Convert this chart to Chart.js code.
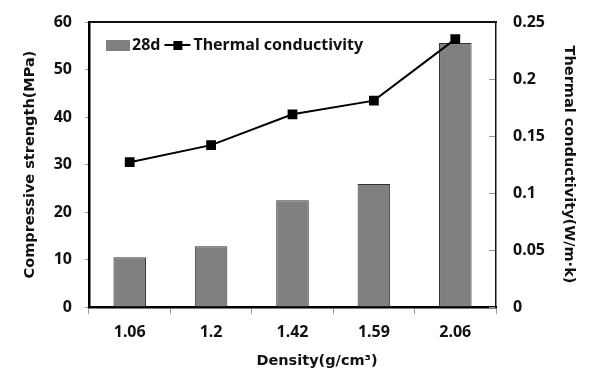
<!DOCTYPE html>
<html>
<head>
<meta charset="utf-8">
<script src="https://cdn.jsdelivr.net/npm/chart.js"></script>
<style>
  html, body { margin: 0; padding: 0; background: #fff; }
  #wrap { width: 600px; height: 383px; }
</style>
</head>
<body>
<div id="wrap"><canvas id="chart" width="600" height="383"></canvas></div>
<script>
const densities = ["1.06", "1.2", "1.42", "1.59", "2.06"];
const strength28d = [10.5, 12.8, 22.5, 25.9, 55.6];
const thermal = [0.127, 0.142, 0.169, 0.181, 0.235];
const leftTicks = [0, 10, 20, 30, 40, 50, 60];
const rightTicks = [0, 0.05, 0.1, 0.15, 0.2, 0.25];
const xTitle = 'Density(g/cm³)';

const FONT = "'Noto Sans', 'DejaVu Sans', sans-serif";
const TITLE_FONT = "'DejaVu Sans', sans-serif";

// top edge of the frame, inward ticks on the right axis, x title and legend
const decor = {
    id: 'decor',
    afterDraw(chart) {
        const {ctx, chartArea: a} = chart;
        const sy1 = chart.scales.y1;
        const L = Math.round(a.left), R = Math.round(a.right), T = Math.round(a.top);
        ctx.save();
        ctx.fillStyle = '#9a9a9a';
        rightTicks.forEach(v => {
            const py = Math.round(sy1.getPixelForValue(v));
            ctx.fillRect(R - 7, py, 6, 1);
        });
        ctx.fillStyle = '#111';
        ctx.fillRect(L, T - 1, R - L + 1, 2);

        ctx.font = 'bold 14.5px ' + TITLE_FONT;
        ctx.textAlign = 'center';
        ctx.textBaseline = 'middle';
        ctx.fillText(xTitle, 317, 361);

        const bars = chart.data.datasets.find(d => d.type !== 'line');
        const line = chart.data.datasets.find(d => d.type === 'line');
        const ly = 45;
        let x = 106;
        ctx.textAlign = 'left';
        ctx.fillStyle = '#808080';
        ctx.fillRect(x, ly - 5, 24, 11);
        x += 26;
        ctx.font = 'bold 16px ' + FONT;
        ctx.fillStyle = '#111';
        ctx.fillText(bars.label, x, ly);
        x += ctx.measureText(bars.label).width + 4;
        ctx.fillStyle = '#000';
        ctx.fillRect(x, ly - 1, 26, 2);
        ctx.fillRect(x + 9, ly - 4, 9, 9);
        x += 29;
        ctx.fillStyle = '#111';
        ctx.fillText(line.label, x, ly);
        ctx.restore();
    }
};

new Chart(document.getElementById('chart'), {
    type: 'bar',
    data: {
        labels: densities,
        datasets: [
            { type: 'line', label: 'Thermal conductivity', data: thermal, yAxisID: 'y1',
              borderColor: '#000', borderWidth: 2, pointStyle: 'rect', pointRadius: 5.5,
              pointBackgroundColor: '#000', pointBorderColor: '#000', tension: 0, order: 0 },
            { type: 'bar', label: '28d', data: strength28d, yAxisID: 'y',
              backgroundColor: '#808080', borderColor: '#333', borderWidth: 1,
              categoryPercentage: 1, barPercentage: 0.4, order: 1 }
        ]
    },
    options: {
        responsive: false,
        animation: false,
        layout: { padding: { top: 22, right: 0, left: 0, bottom: 0 } },
        plugins: { legend: { display: false }, tooltip: { enabled: false } },
        scales: {
            x: {
                afterFit: s => { s.height = 76; s.paddingLeft = 0; s.paddingRight = 0; },
                grid: { display: true, drawOnChartArea: false, drawTicks: true, tickLength: 7, color: '#9a9a9a', offset: true },
                border: { display: true, color: '#000', width: 2.5 },
                ticks: { color: '#111', font: { family: FONT, size: 16, weight: 'bold' }, padding: 9 }
            },
            y: {
                position: 'left', min: 0, max: 60,
                afterBuildTicks: s => { s.ticks = leftTicks.map(v => ({value: v})); },
                afterFit: s => { s.width = 89; s.paddingTop = 0; s.paddingBottom = 0; },
                grid: { display: true, drawOnChartArea: false, drawTicks: true, tickLength: 4, color: '#9a9a9a' },
                border: { display: true, color: '#000', width: 2.5 },
                ticks: { color: '#111', font: { family: FONT, size: 16, weight: 'bold' }, padding: 13 },
                title: { display: true, text: 'Compressive strength(MPa)', color: '#111',
                    font: { family: TITLE_FONT, size: 14.5, weight: 'bold' }, padding: { top: 22, bottom: 0 } }
            },
            y1: {
                position: 'right', min: 0, max: 0.25,
                afterBuildTicks: s => { s.ticks = rightTicks.map(v => ({value: v})); },
                afterFit: s => { s.width = 104; s.paddingTop = 0; s.paddingBottom = 0; },
                grid: { display: false, drawTicks: false },
                border: { display: true, color: '#111', width: 1.5 },
                ticks: { color: '#111', font: { family: FONT, size: 16, weight: 'bold' }, padding: 17,
                    callback: v => String(+v.toFixed(2)) },
                title: { display: true, text: 'Thermal conductivity(W/m·k)', color: '#111',
                    font: { family: TITLE_FONT, size: 14.5, weight: 'bold' }, padding: { top: 23, bottom: 0 } }
            }
        }
    },
    plugins: [decor]
});
</script>
</body>
</html>
